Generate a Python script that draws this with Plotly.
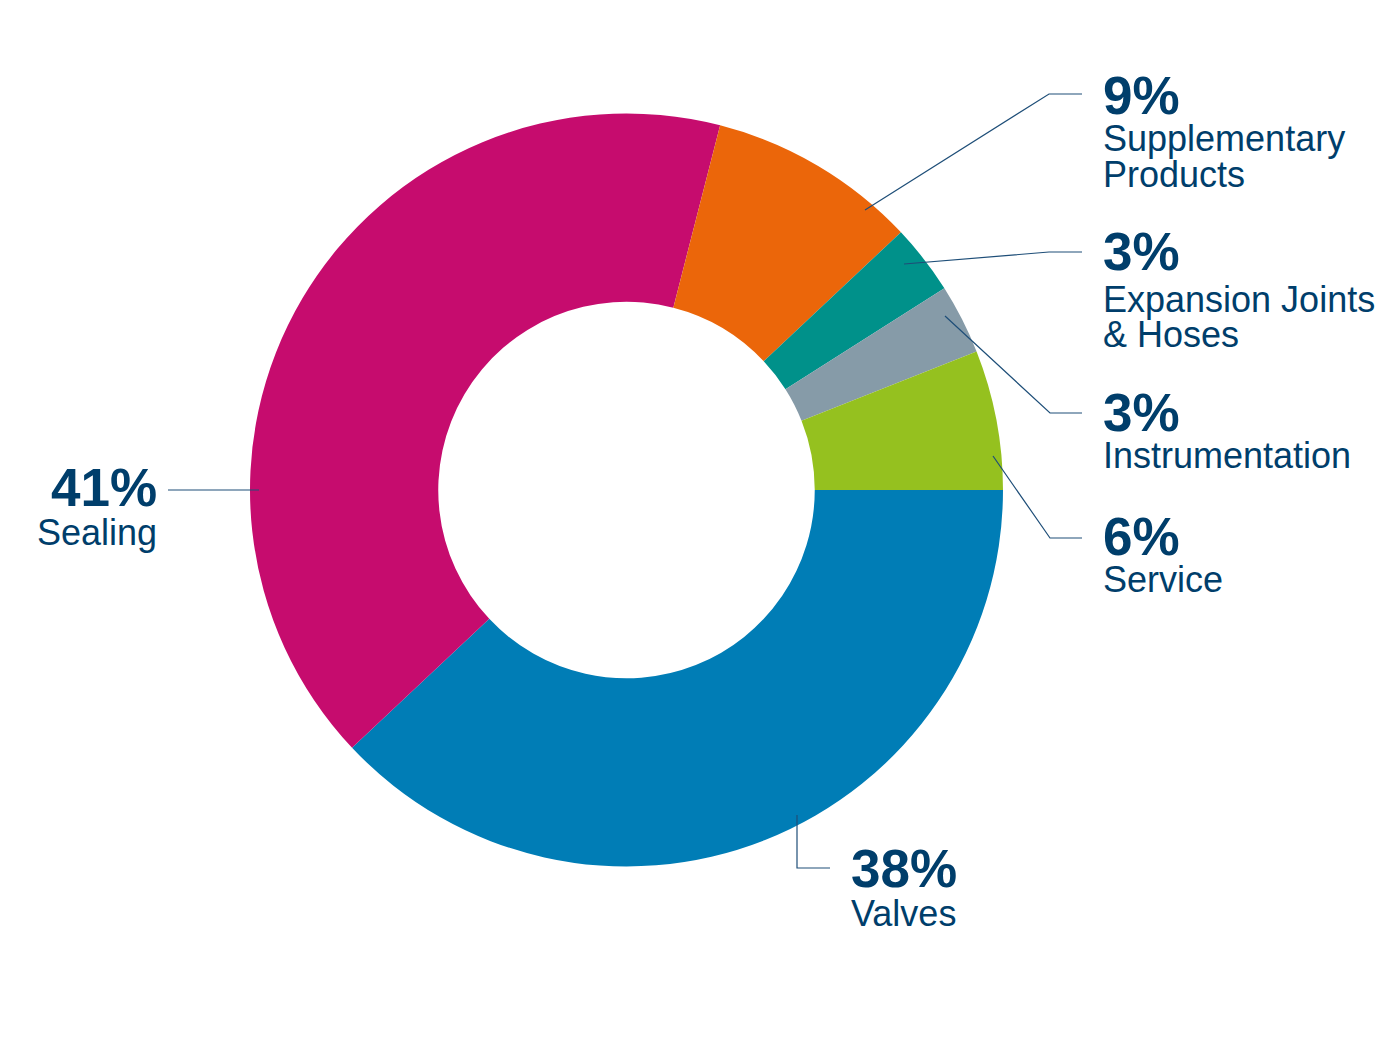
import plotly.graph_objects as go

# ---- data ----
categories = ["Valves", "Sealing", "Supplementary Products", "Expansion Joints & Hoses",
              "Instrumentation", "Service"]
shares = [38, 41, 9, 3, 3, 6]
label_lines = [["Valves"], ["Sealing"], ["Supplementary", "Products"],
               ["Expansion Joints", "& Hoses"], ["Instrumentation"], ["Service"]]
colors = ["#007DB6", "#C60C6E", "#EB660A", "#00918A", "#869BA8", "#95C11F"]

W, H = 1400, 1050
OFF = 8  # page body margin offset
TEXT = "#003E6B"
LINE = "#1E4E78"
FONT = "Liberation Sans, Arial, sans-serif"


def px(x):
    return (x - OFF) / W


def py(y):
    return 1 - (y - OFF) / H


fig = go.Figure(go.Pie(
    labels=categories, values=shares, hole=0.5, sort=False, direction="clockwise",
    rotation=90, textinfo="none", hoverinfo="label+percent",
    marker=dict(colors=colors, line=dict(width=0)),
    domain=dict(x=[px(250), px(1003)], y=[py(866.5), py(113.5)]),
    showlegend=False,
))

# layout: leader line polylines (pixel coords) and label anchor per category
leaders = {
    "Valves": [(797, 815), (797, 868), (830, 868)],
    "Sealing": [(259, 490), (168, 490)],
    "Supplementary Products": [(865, 210), (1049, 94), (1082, 94)],
    "Expansion Joints & Hoses": [(904, 264), (1049, 252), (1082, 252)],
    "Instrumentation": [(945, 316), (1050, 413), (1082, 413)],
    "Service": [(993, 456), (1050, 538), (1082, 538)],
}
# (x, percent-center-y, first-line-center-y, anchor)
label_pos = {
    "Valves": (849, 868, 913, "left"),
    "Sealing": (159, 487, 532, "right"),
    "Supplementary Products": (1101, 96, 139, "left"),
    "Expansion Joints & Hoses": (1101, 252, 299, "left"),
    "Instrumentation": (1101, 412, 455, "left"),
    "Service": (1101, 536, 579, "left"),
}
LINE_GAP = 35.5

shapes = []
annotations = []
for cat, val, lines in zip(categories, shares, label_lines):
    pts = leaders[cat]
    path = "M " + " L ".join(f"{px(x)},{py(y)}" for x, y in pts)
    shapes.append(dict(type="path", path=path, xref="paper", yref="paper",
                       line=dict(color=LINE, width=1.2)))
    x, yp, yl, anchor = label_pos[cat]
    annotations.append(dict(text=f"<b>{val}%</b>", x=px(x), y=py(yp), xref="paper", yref="paper",
                            xanchor=anchor, yanchor="middle", showarrow=False,
                            font=dict(family=FONT, size=53, color=TEXT)))
    for i, t in enumerate(lines):
        annotations.append(dict(text=t, x=px(x), y=py(yl + i * LINE_GAP), xref="paper", yref="paper",
                                xanchor=anchor, yanchor="middle", showarrow=False,
                                font=dict(family=FONT, size=36, color=TEXT)))

fig.update_layout(
    width=W, height=H, margin=dict(l=0, r=0, t=0, b=0),
    paper_bgcolor="white", plot_bgcolor="white",
    shapes=shapes, annotations=annotations,
)

fig.write_html("out.html")
